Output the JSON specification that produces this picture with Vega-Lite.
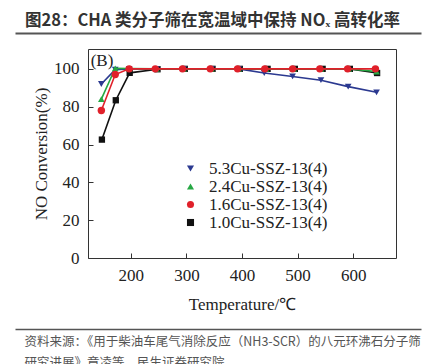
{
  "$schema": "https://vega.github.io/schema/vega-lite/v6.json",
  "width": 308,
  "height": 209,
  "autosize": {"type": "none"},
  "padding": {"left": 88, "top": 49, "right": 39, "bottom": 106},
  "background": "white",
  "config": {
    "view": {"stroke": null},
    "font": "Liberation Serif"
  },
  "title": {
    "text": "图28：CHA 类分子筛在宽温域中保持 NOₓ 高转化率",
    "anchor": "start",
    "frame": "group",
    "dx": -63,
    "offset": 4,
    "font": "Noto Sans CJK SC",
    "fontSize": 16.5,
    "fontWeight": "bold",
    "color": "#333"
  },
  "datasets": {
    "pts": [
      {"s": "1.0Cu-SSZ-13(4)", "t": 148, "v": 62.6},
      {"s": "1.0Cu-SSZ-13(4)", "t": 173, "v": 83.4},
      {"s": "1.0Cu-SSZ-13(4)", "t": 198, "v": 97.9},
      {"s": "1.0Cu-SSZ-13(4)", "t": 248, "v": 99.8},
      {"s": "1.0Cu-SSZ-13(4)", "t": 297, "v": 100},
      {"s": "1.0Cu-SSZ-13(4)", "t": 347, "v": 100},
      {"s": "1.0Cu-SSZ-13(4)", "t": 396, "v": 100},
      {"s": "1.0Cu-SSZ-13(4)", "t": 446, "v": 100},
      {"s": "1.0Cu-SSZ-13(4)", "t": 495, "v": 100},
      {"s": "1.0Cu-SSZ-13(4)", "t": 545, "v": 100},
      {"s": "1.0Cu-SSZ-13(4)", "t": 594, "v": 100},
      {"s": "1.0Cu-SSZ-13(4)", "t": 643, "v": 97.8},
      {"s": "5.3Cu-SSZ-13(4)", "t": 147, "v": 92},
      {"s": "5.3Cu-SSZ-13(4)", "t": 172, "v": 99.6},
      {"s": "5.3Cu-SSZ-13(4)", "t": 197, "v": 100},
      {"s": "5.3Cu-SSZ-13(4)", "t": 246, "v": 100},
      {"s": "5.3Cu-SSZ-13(4)", "t": 295, "v": 100},
      {"s": "5.3Cu-SSZ-13(4)", "t": 345, "v": 100},
      {"s": "5.3Cu-SSZ-13(4)", "t": 394, "v": 100},
      {"s": "5.3Cu-SSZ-13(4)", "t": 440, "v": 97.8},
      {"s": "5.3Cu-SSZ-13(4)", "t": 491, "v": 96},
      {"s": "5.3Cu-SSZ-13(4)", "t": 542, "v": 94},
      {"s": "5.3Cu-SSZ-13(4)", "t": 591, "v": 90.6},
      {"s": "5.3Cu-SSZ-13(4)", "t": 642, "v": 87.6},
      {"s": "2.4Cu-SSZ-13(4)", "t": 147, "v": 84},
      {"s": "2.4Cu-SSZ-13(4)", "t": 172, "v": 100.3},
      {"s": "2.4Cu-SSZ-13(4)", "t": 197, "v": 100.2},
      {"s": "2.4Cu-SSZ-13(4)", "t": 246, "v": 100},
      {"s": "2.4Cu-SSZ-13(4)", "t": 295, "v": 100},
      {"s": "2.4Cu-SSZ-13(4)", "t": 345, "v": 100},
      {"s": "2.4Cu-SSZ-13(4)", "t": 394, "v": 100},
      {"s": "2.4Cu-SSZ-13(4)", "t": 443, "v": 100},
      {"s": "2.4Cu-SSZ-13(4)", "t": 493, "v": 100},
      {"s": "2.4Cu-SSZ-13(4)", "t": 542, "v": 100},
      {"s": "2.4Cu-SSZ-13(4)", "t": 592, "v": 100},
      {"s": "2.4Cu-SSZ-13(4)", "t": 642, "v": 98.6},
      {"s": "1.6Cu-SSZ-13(4)", "t": 147, "v": 78},
      {"s": "1.6Cu-SSZ-13(4)", "t": 172, "v": 97},
      {"s": "1.6Cu-SSZ-13(4)", "t": 197, "v": 100},
      {"s": "1.6Cu-SSZ-13(4)", "t": 244, "v": 100},
      {"s": "1.6Cu-SSZ-13(4)", "t": 293, "v": 100},
      {"s": "1.6Cu-SSZ-13(4)", "t": 343, "v": 100},
      {"s": "1.6Cu-SSZ-13(4)", "t": 392, "v": 100},
      {"s": "1.6Cu-SSZ-13(4)", "t": 441, "v": 100},
      {"s": "1.6Cu-SSZ-13(4)", "t": 491, "v": 100},
      {"s": "1.6Cu-SSZ-13(4)", "t": 540, "v": 100},
      {"s": "1.6Cu-SSZ-13(4)", "t": 590, "v": 100},
      {"s": "1.6Cu-SSZ-13(4)", "t": 640, "v": 100}
    ]
  },
  "data": {"name": "pts"},
  "resolve": {
    "scale": {"x": "independent", "y": "independent"},
    "axis": {"x": "independent", "y": "independent"}
  },
  "layer": [
    {
      "encoding": {
        "x": {
          "field": "t", "type": "quantitative",
          "scale": {"domain": [123, 677], "nice": false, "zero": false},
          "axis": {
            "values": [200, 300, 400, 500, 600],
            "grid": false, "tickSize": -5, "tickColor": "#333", "domainColor": "#333",
            "labelFont": "Liberation Serif", "labelFontSize": 17, "labelColor": "#222", "labelPadding": 14,
            "title": "Temperature/℃", "titleFont": "Liberation Serif", "titleFontSize": 17,
            "titleFontWeight": "normal", "titleColor": "#222", "titlePadding": 13
          }
        },
        "y": {
          "field": "v", "type": "quantitative",
          "scale": {"domain": [0, 110.5], "nice": false},
          "axis": {
            "values": [0, 20, 40, 60, 80, 100],
            "grid": false, "tickSize": -5, "tickColor": "#333", "domainColor": "#333",
            "labelFont": "Liberation Serif", "labelFontSize": 17, "labelColor": "#222", "labelPadding": 14,
            "title": "NO Conversion(%)", "titleFont": "Liberation Serif", "titleFontSize": 17,
            "titleFontWeight": "normal", "titleColor": "#222", "titlePadding": 3
          }
        }
      },
      "layer": [
        {
          "transform": [{"filter": "datum.s === '1.0Cu-SSZ-13(4)'"}],
          "layer": [
            {"mark": {"type": "line", "strokeWidth": 1.6, "color": "#111111"}},
            {"mark": {"type": "point", "shape": "square", "filled": true, "opacity": 1, "size": 40, "color": "#111111"}}
          ]
        },
        {
          "transform": [{"filter": "datum.s === '5.3Cu-SSZ-13(4)'"}],
          "layer": [
            {"mark": {"type": "line", "strokeWidth": 1.6, "color": "#2b3990"}},
            {"mark": {"type": "point", "shape": "triangle-down", "filled": true, "opacity": 1, "size": 45, "color": "#2b3990"}}
          ]
        },
        {
          "transform": [{"filter": "datum.s === '2.4Cu-SSZ-13(4)'"}],
          "layer": [
            {"mark": {"type": "line", "strokeWidth": 1.6, "color": "#27a844"}},
            {"mark": {"type": "point", "shape": "triangle-up", "filled": true, "opacity": 1, "size": 45, "color": "#27a844"}}
          ]
        },
        {
          "transform": [{"filter": "datum.s === '1.6Cu-SSZ-13(4)'"}],
          "layer": [
            {"mark": {"type": "line", "strokeWidth": 1.6, "color": "#e0202a"}},
            {"mark": {"type": "point", "shape": "circle", "filled": true, "opacity": 1, "size": 55, "color": "#e0202a"}}
          ]
        },
        {
          "mark": {"type": "point", "filled": true, "opacity": 0},
          "encoding": {
            "color": {
              "field": "s", "type": "nominal",
              "scale": {
                "domain": ["5.3Cu-SSZ-13(4)", "2.4Cu-SSZ-13(4)", "1.6Cu-SSZ-13(4)", "1.0Cu-SSZ-13(4)"],
                "range": ["#2b3990", "#27a844", "#e0202a", "#111111"]
              },
              "legend": {
                "title": null, "orient": "none", "legendX": 94, "legendY": 111, "padding": 0, "rowPadding": 0,
                "symbolOpacity": 1, "symbolSize": 50, "symbolStrokeWidth": 0,
                "labelFont": "Liberation Serif", "labelFontSize": 17, "labelColor": "#222", "labelOffset": 10
              }
            },
            "shape": {
              "field": "s", "type": "nominal",
              "scale": {
                "domain": ["5.3Cu-SSZ-13(4)", "2.4Cu-SSZ-13(4)", "1.6Cu-SSZ-13(4)", "1.0Cu-SSZ-13(4)"],
                "range": ["triangle-down", "triangle-up", "circle", "square"]
              },
              "legend": {
                "title": null, "orient": "none", "legendX": 94, "legendY": 111, "padding": 0, "rowPadding": 0,
                "symbolOpacity": 1, "symbolSize": 50, "symbolStrokeWidth": 0,
                "labelFont": "Liberation Serif", "labelFontSize": 17, "labelColor": "#222", "labelOffset": 10
              }
            }
          }
        }
      ]
    },
    {
      "mark": {"type": "rule", "opacity": 0},
      "encoding": {
        "x": {
          "datum": 0.5, "type": "quantitative",
          "scale": {"domain": [0, 1]},
          "axis": {
            "orient": "bottom", "offset": -209, "labels": false, "ticks": false, "grid": false,
            "domainColor": "#333", "domainWidth": 1,
            "title": "(B)", "titleFont": "Liberation Serif", "titleFontSize": 17, "titleFontWeight": "normal",
            "titleColor": "#222", "titleAlign": "center", "titleBaseline": "middle",
            "titleX": 13.5, "titleY": 11.7
          }
        }
      }
    },
    {
      "mark": {"type": "rule", "opacity": 0},
      "encoding": {
        "y": {
          "datum": 0.5, "type": "quantitative",
          "scale": {"domain": [0, 1]},
          "axis": {
            "orient": "left", "offset": -308, "labels": false, "ticks": false, "grid": false,
            "domainColor": "#333", "domainWidth": 1, "title": null
          }
        }
      }
    },
    {
      "mark": {"type": "rule", "opacity": 0},
      "encoding": {
        "x": {
          "datum": 0.5, "type": "quantitative",
          "scale": {"domain": [0, 1], "range": [-73, 333]},
          "axis": {
            "orient": "bottom", "offset": -225, "labels": false, "ticks": false, "grid": false,
            "domainColor": "#555", "domainWidth": 2, "title": null
          }
        }
      }
    },
    {
      "mark": {"type": "rule", "opacity": 0},
      "encoding": {
        "x": {
          "datum": 0.5, "type": "quantitative",
          "scale": {"domain": [0, 1], "range": [-73, 333]},
          "axis": {
            "orient": "bottom", "offset": 71, "labels": false, "ticks": false, "grid": false,
            "domainColor": "#555", "domainWidth": 1.5,
            "title": ["资料来源：《用于柴油车尾气消除反应（NH3-SCR）的八元环沸石分子筛", "研究进展》章凌等，民生证券研究院"],
            "titleFont": "Noto Sans CJK SC", "titleFontSize": 12.5, "titleFontWeight": "normal",
            "titleColor": "#555", "titleAlign": "left", "titleAnchor": "start", "titleBaseline": "top",
            "titleX": -64, "titleY": 6.5, "titleLineHeight": 21
          }
        }
      }
    }
  ]
}
